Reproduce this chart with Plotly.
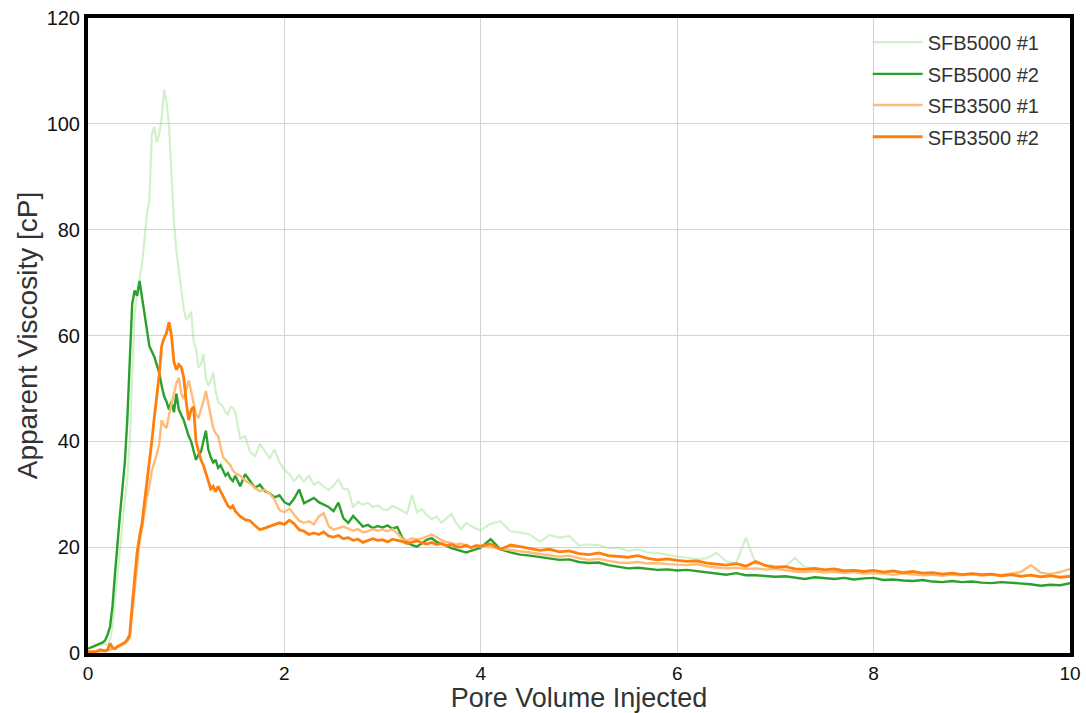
import numpy as np
import plotly.graph_objects as go

# Pore volume sampling grid
pv = np.round(np.concatenate([
    np.arange(0, 61) * 0.025,          # 0.00 .. 1.50
    1.5 + np.arange(1, 51) * 0.05,     # 1.55 .. 4.00
    4.0 + np.arange(1, 61) * 0.1,      # 4.1 .. 10.0
]), 3).tolist()

sfb5000_1 = [
    # 0.00 - 1.50 (step 0.025)
    0.9, 1.0, 1.1, 1.2, 1.3, 1.4, 1.6, 1.8, 1.5, 2.5, 5, 10, 15, 20, 25, 29, 33, 40, 52, 64, 68, 71,
    73.5, 78, 83, 85.5, 98, 99.5, 96.5, 98, 101, 106.5, 104, 99.5, 91, 81.5, 76, 72, 68.5, 65, 63,
    63.5, 64.5, 59, 57.5, 54, 54.5, 56.5, 52, 50.5, 51.5, 53, 49.5, 47.5, 47, 46.5, 45.5, 45, 46.5,
    46.3, 45.5,
    # 1.55 - 4.00 (step 0.05)
    40.5, 41.0, 38.0, 37.2, 39.5, 38.2, 36.8, 38.5, 36.0, 34.6, 33.8, 32.5, 33.6, 32.4, 33.5, 31.8,
    32.3, 31.5, 30.8, 31.6, 32.8, 31.0, 30.9, 27.5, 28.6, 28.0, 28.4, 27.6, 27.9, 27.2, 27.0, 27.8,
    27.3, 26.9, 26.4, 29.9, 26.6, 27.2, 26.0, 25.3, 25.8, 24.6, 25.5, 26.3, 24.5, 23.4, 24.6, 24.0,
    23.5, 23.2,
    # 4.1 - 10.0 (step 0.1)
    24.4, 24.9, 23.0, 22.8, 22.4, 21.0, 22.3, 21.8, 22.1, 20.3, 20.5, 20.4, 19.8, 19.9, 19.3, 19.6,
    19.0, 18.9, 18.5, 18.2, 18.0, 17.7, 17.9, 18.9, 17.3, 17.0, 21.8, 16.8, 16.6, 16.4, 16.3, 18.0,
    16.2, 16.0, 15.8, 15.9, 15.6, 15.7, 15.4, 15.5, 15.3, 15.4, 15.2, 15.3, 15.0, 15.1, 14.9, 15.0,
    14.8, 14.9, 14.8, 14.9, 14.7, 14.8, 14.6, 14.7, 14.5, 14.6, 14.5, 14.7,
]

sfb5000_2 = [
    0.8, 1.0, 1.1, 1.3, 1.5, 1.7, 2.0, 2.4, 3.5, 5, 9, 15, 21, 26, 31, 36, 44, 56, 66, 68.5, 67.5,
    70.3, 67, 64.5, 61, 58, 57, 56, 54.5, 53, 50.5, 48.5, 47.5, 46, 47.5, 45.5, 49, 46, 45, 44, 42.5,
    41, 40, 38, 36.5, 37.5, 38, 40, 42, 38.5, 37, 36, 36.5, 35, 35.5, 34.5, 33.5, 34, 33, 32.5, 33.5,
    31.5, 33.8, 32.5, 31.2, 31.8, 30.6, 30.2, 29.4, 29.8, 28.5, 28.0, 29.2, 30.9, 28.3, 28.8, 29.3,
    28.5, 28.0, 27.6, 26.8, 28.4, 25.5, 24.6, 25.9, 24.8, 23.9, 24.2, 23.6, 24.0, 23.7, 24.1, 23.5,
    23.8, 21.8, 20.9, 20.4, 20.1, 20.8, 21.4, 21.7, 21.0, 20.6, 20.3, 19.8, 19.5, 19.2, 19.0, 19.3,
    19.6, 19.9,
    21.5, 19.6, 19.0, 18.6, 18.4, 18.1, 17.8, 17.6, 17.7, 17.2, 17.0, 17.1, 16.6, 16.3, 16.0, 16.1,
    15.9, 15.7, 15.8, 15.6, 15.7, 15.5, 15.3, 15.0, 14.8, 15.1, 14.7, 14.7, 14.5, 14.4, 14.5, 14.2,
    14.0, 14.3, 14.1, 14.0, 14.2, 13.9, 14.1, 14.2, 13.8, 13.9, 13.7, 13.6, 13.8, 13.5, 13.4, 13.6,
    13.4, 13.5, 13.3, 13.2, 13.4, 13.3, 13.2, 13.0, 12.7, 12.9, 12.8, 13.2,
]

sfb3500_1 = [
    0.3, 0.3, 0.3, 0.3, 0.3, 0.3, 0.3, 0.3, 0.5, 0.6, 0.8, 1.0, 1.1, 1.3, 1.5, 1.8, 2.2, 3.0, 7.5,
    12.5, 17.5, 21, 23.5, 27, 29.5, 31.5, 34.5, 36, 37.5, 39.5, 44, 43, 42.5, 45, 47, 49.5, 51, 52,
    49, 48, 50, 51.5, 49.5, 47, 45, 44.5, 46, 47.5, 49.5, 47, 44.5, 42.5, 41.5, 41, 39, 37, 36.5, 36,
    35.5, 34.5, 34,
    33.5, 32.6, 32.0, 31.2, 30.6, 30.9, 30.1, 29.0, 27.0, 26.6, 27.3, 26.2, 25.0, 24.6, 24.9, 24.3,
    25.8, 26.4, 24.0, 23.3, 23.6, 23.9, 23.5, 23.1, 23.4, 22.8, 23.0, 23.4, 23.1, 23.3, 23.0, 23.4,
    22.6, 21.6, 21.3, 21.7, 21.4, 21.6, 22.0, 22.4, 21.9, 21.3, 21.0, 20.8, 20.5, 20.7, 20.2, 20.0,
    20.3, 20.1,
    20.0, 19.7, 19.5, 19.2, 19.0, 18.7, 18.5, 18.2, 18.4, 17.9, 17.6, 17.8, 17.4, 17.1, 17.0, 17.2,
    16.9, 17.0, 16.8, 16.7, 16.6, 16.8, 16.4, 16.2, 16.0, 16.1, 15.9, 16.0, 15.8, 15.9, 15.6, 15.4,
    15.3, 15.5, 15.2, 15.4, 15.1, 15.3, 15.0, 15.1, 15.0, 14.8, 15.0, 14.9, 14.7, 14.8, 14.6, 14.8,
    14.7, 14.9, 14.6, 14.8, 14.7, 15.0, 15.3, 16.6, 15.2, 14.9, 15.3, 15.9,
]

sfb3500_2 = [
    0.2, 0.2, 0.2, 0.2, 0.4, 0.6, 0.5, 0.4, 0.6, 1.8, 1.0, 0.8, 1.2, 1.5, 1.8, 2.0, 2.5, 3.5, 9, 14,
    19, 22, 24.5, 28.5, 32, 36, 40, 44.5, 48.5, 52.5, 58, 59.5, 60.5, 62.5, 60, 55, 53.5, 54.5, 54,
    52, 47.5, 44, 46, 46.5, 40, 38, 36.5, 35.5, 34, 32.5, 31, 31.5, 30.5, 31.5, 30.5, 29.8, 28.5,
    27.8, 27.4, 27.8, 26.8,
    25.8, 25.2, 25.0, 24.1, 23.3, 23.6, 23.9, 24.2, 24.6, 24.3, 25.1, 24.4, 23.3, 23.0, 22.4, 22.7,
    22.4, 22.9, 22.1, 21.9, 22.2, 21.6, 21.8, 21.3, 21.5, 20.9, 21.2, 21.6, 21.3, 21.4, 21.0, 21.5,
    21.3, 21.1, 20.7, 20.9, 21.2, 20.8, 20.6, 20.9, 20.5, 20.7, 20.3, 20.5, 20.1, 20.0, 20.4, 19.9,
    20.3, 20.2,
    20.6, 19.6, 20.4, 20.1, 19.7, 19.4, 19.6, 19.1, 19.3, 18.8, 18.6, 18.9, 18.4, 18.3, 18.1, 18.4,
    17.9, 17.6, 17.8, 17.5, 17.3, 17.4, 17.0, 16.8, 16.6, 16.9, 16.4, 17.3, 16.5, 16.2, 16.3, 15.9,
    15.8, 16.0, 15.7, 15.9, 15.5, 15.6, 15.4, 15.6, 15.3, 15.5, 15.2, 15.4, 15.1, 15.2, 14.9, 15.1,
    14.8, 15.0, 14.8, 14.9, 14.6, 14.8, 14.5, 14.7, 14.4, 14.6, 14.3, 14.5,
]

series_names = ["SFB5000 #1", "SFB5000 #2", "SFB3500 #1", "SFB3500 #2"]
series_vals = [sfb5000_1, sfb5000_2, sfb3500_1, sfb3500_2]
colors = ["rgba(152,223,138,0.45)", "#2ca02c", "#ffbb78", "#ff7f0e"]
widths = [2.2, 2.4, 2.4, 2.8]
legend_ids = ["legend", "legend2", "legend3", "legend4"]
legend_rows = [0.962, 0.912, 0.863, 0.813]

x_ticks = [0, 2, 4, 6, 8, 10]
y_ticks = [0, 20, 40, 60, 80, 100, 120]

fig = go.Figure()
for name, vals, c, w, lg in zip(series_names, series_vals, colors, widths, legend_ids):
    fig.add_trace(go.Scatter(x=pv, y=vals, mode="lines", name=name,
                             line=dict(color=c, width=w), legend=lg))

font = "Liberation Sans, Arial, sans-serif"
legend_common = dict(xanchor="left", yanchor="middle", x=0.794,
                     bgcolor="rgba(0,0,0,0)", font=dict(size=20, color="#333333"),
                     itemwidth=50)
fig.update_layout(
    width=1086, height=713,
    margin=dict(l=88, r=16, t=18, b=60, autoexpand=False),
    paper_bgcolor="white", plot_bgcolor="white",
    font=dict(family=font, color="#222222", size=20),
    showlegend=True,
    **{lg: dict(y=yy, **legend_common) for lg, yy in zip(legend_ids, legend_rows)},
)
fig.update_xaxes(
    range=[0, 10], tickvals=x_ticks, ticktext=[str(v) for v in x_ticks],
    showgrid=True, gridcolor="#d3d3d3", gridwidth=1.2,
    showline=True, linecolor="black", linewidth=4, mirror=True, automargin=False,
    zeroline=False, ticks="", tickfont=dict(size=19, color="#111111"),
    title=dict(text="Pore Volume Injected", font=dict(size=27, color="#333333"), standoff=5),
)
fig.update_yaxes(
    range=[0, 120], tickvals=y_ticks, ticktext=[str(v) for v in y_ticks],
    showgrid=True, gridcolor="#d3d3d3", gridwidth=1.2,
    showline=True, linecolor="black", linewidth=4, mirror=True, automargin=False,
    zeroline=False, ticks="", tickfont=dict(size=20, color="#111111"),
    title=dict(text="Apparent Viscosity [cP]", font=dict(size=28, color="#333333"), standoff=2),
)

fig.write_html("out.html")
